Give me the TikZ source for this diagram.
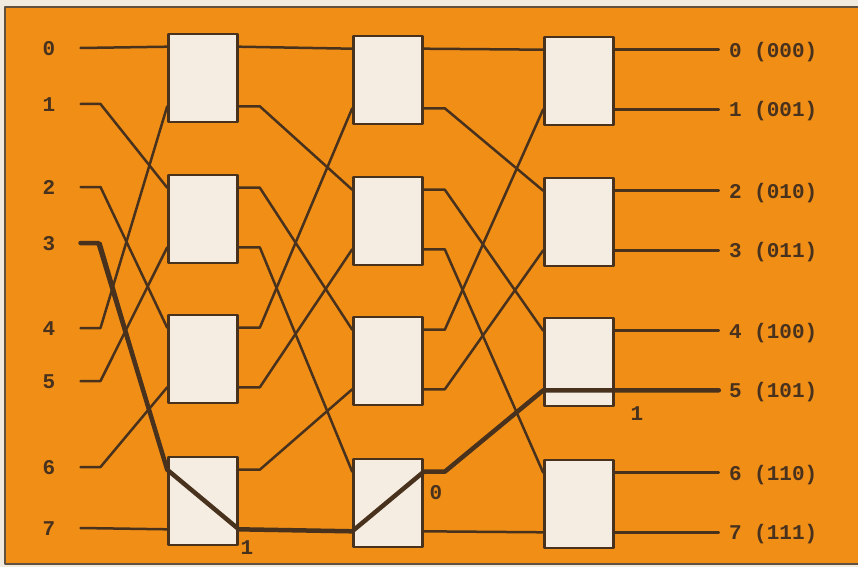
\documentclass[tikz,border=0pt]{standalone}
\usepackage{fontspec}
\setmonofont{Liberation Mono}
\usetikzlibrary{calc}
\definecolor{netOrange}{RGB}{240,142,22}
\definecolor{netCream}{RGB}{246,237,226}
\definecolor{netInk}{RGB}{72,50,30}
\definecolor{netPaper}{RGB}{240,235,222}

\tikzset{
  swbox/.style={draw=netInk, fill=netCream, line width=2.6pt, minimum width=69pt, minimum height=88pt, inner sep=0pt},
  wire/.style={draw=netInk, line width=2.5pt},
  route/.style={draw=netInk, line width=4.5pt},
  lbl/.style={text=netInk, font=\ttfamily\bfseries\fontsize{21}{21}\selectfont, inner sep=0pt, text height=15pt, text depth=0pt},
}

\begin{document}
\begin{tikzpicture}[x=1pt, y=-1pt, line cap=round, line join=round]
    \useasboundingbox (0,0) rectangle (858,567);
    \fill[netPaper] (0,0) rectangle (858,567);
    \fill[netOrange] (5,7) rectangle (858,564);
    \draw[netInk!85, line width=1.2pt] (858,7) -- (5,7) -- (5,564) -- (858,564);

    % switches, 3 stages of 4
    \foreach \c/\x/\dy in {1/203/0, 2/388/2, 3/579/3}
      \foreach \r/\y in {1/78, 2/219, 3/359, 4/501} {
        \node[swbox] (b\c\r) at (\x,\y+\dy) {};
        \pgfmathtruncatemacro\pa{2*\r-2}
        \pgfmathtruncatemacro\pb{2*\r-1}
        \coordinate (i\c-\pa) at ([yshift=-14pt]b\c\r.north west);
        \coordinate (i\c-\pb) at ([yshift=17pt]b\c\r.south west);
        \coordinate (o\c-\pa) at ([yshift=-14pt]b\c\r.north east);
        \coordinate (o\c-\pb) at ([yshift=17pt]b\c\r.south east);
      }

    % inputs and first shuffle
    \foreach \i/\y in {0/48, 1/104, 2/187, 3/243, 4/328, 5/381, 6/467, 7/528}
      \node[lbl] (x\i) at (49,\y) {\i};
    \draw[wire] ([xshift=25pt]x0.east) -- (i1-0);
    \draw[wire] ([xshift=25pt]x7.east) -- (i1-7);
    \foreach \i/\s in {1/2, 2/4, 3/6, 4/1, 5/3, 6/5}
      \draw[wire] ([xshift=25pt]x\i.east) -- ++(20,0) -- (i1-\s);

    % shuffles between stages
    \foreach \c/\n in {1/2, 2/3} {
      \draw[wire] (o\c-0) -- (i\n-0);
      \draw[wire] (o\c-7) -- (i\n-7);
      \foreach \p/\s in {1/2, 2/4, 3/6, 4/1, 5/3, 6/5}
        \draw[wire] (o\c-\p) -- ++(21,0) -- (i\n-\s);
    }

    % outputs
    \foreach \p/\t in {0/000, 1/001, 2/010, 3/011, 4/100, 5/101, 6/110, 7/111} {
      \node[lbl, anchor=west] (y\p) at ([xshift=114pt]o3-\p) {\p\ (\t)};
      \draw[wire] (o3-\p) -- ([xshift=-10pt]y\p.west);
    }

    % route 3 -> 5
    \draw[route] ([xshift=25pt]x3.east) -- ++(18,0) -- (i1-6) -- (o1-7) -- (i2-7)
        -- (o2-6) -- ++(21,0) -- (i3-5) -- (o3-5) -- ([xshift=-10pt]y5.west);
    \node[lbl] (st1) at ([shift={(8pt,-18pt)}]o1-7) {1};
    \node[lbl] (st2) at ([shift={(12pt,-20pt)}]o2-6) {0};
    \node[lbl] (st3) at ([shift={(22pt,-23pt)}]o3-5) {1};
\end{tikzpicture}
\end{document}
